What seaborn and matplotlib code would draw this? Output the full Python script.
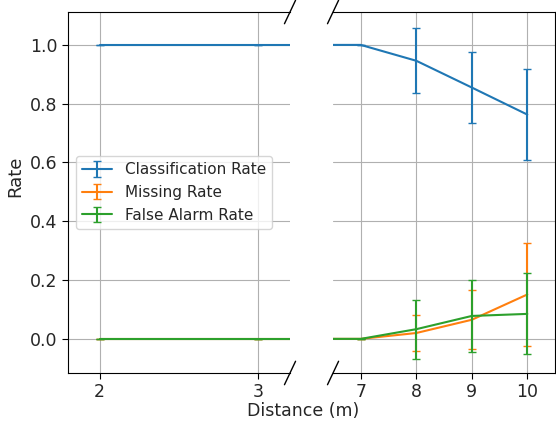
import numpy as np
import pandas as pd
import seaborn as sns
import matplotlib
matplotlib.use("Agg")
import matplotlib.pyplot as plt

distance = [2, 3, 7, 8, 9, 10]
classification_rate = [1.0, 1.0, 1.0, 0.946, 0.855, 0.763]
classification_err = [0.0, 0.0, 0.0, 0.111, 0.122, 0.156]
missing_rate = [0.0, 0.0, 0.0, 0.020, 0.065, 0.151]
missing_err = [0.0, 0.0, 0.0, 0.061, 0.100, 0.175]
false_alarm_rate = [0.0, 0.0, 0.0, 0.033, 0.078, 0.085]
false_alarm_err = [0.0, 0.0, 0.0, 0.100, 0.123, 0.138]
series_names = ["Classification Rate", "Missing Rate", "False Alarm Rate"]

sns.set_style("ticks", {"axes.grid": True, "grid.color": "#b0b0b0", "axes.edgecolor": "black"})
plt.rcParams['font.family'] = ['DejaVu Sans']
palette = sns.color_palette("tab10", 3)

fig = plt.figure(figsize=(5.56, 4.25), dpi=100)
ax1 = fig.add_axes([0.1223, 0.1224, 0.3993, 0.8494])
ax2 = fig.add_axes([0.599, 0.1224, 0.3993, 0.8494], sharey=ax1)

values = [classification_rate, missing_rate, false_alarm_rate]
errs = [classification_err, missing_err, false_alarm_err]

handles = []
for ax in (ax1, ax2):
    for name, v, e, c in zip(series_names, values, errs, palette):
        sns.lineplot(x=distance, y=v, ax=ax, color=c, linewidth=1.5, legend=False)
        ax.errorbar(distance, v, yerr=e, fmt='none', ecolor=c, capsize=3, elinewidth=1.5)
    ax.grid(True, color="#b0b0b0", linewidth=0.8)
    ax.tick_params(labelsize=12.5, length=4, width=0.8, color="black")
    for s in ax.spines.values():
        s.set_linewidth(0.8)

for name, c in zip(series_names, palette):
    h = ax1.errorbar([np.nan], [np.nan], yerr=[np.nan], fmt='-', color=c, capsize=3, linewidth=1.5, label=name)
    handles.append(h)

ax1.set_xlim(1.8, 3.2)
ax2.set_xlim(6.5, 10.5)
ax1.set_ylim(-0.116, 1.112)
ax1.set_xticks([2, 3])
ax2.set_xticks([7, 8, 9, 10])
ax1.set_yticks([0.0, 0.2, 0.4, 0.6, 0.8, 1.0])
ax1.spines['right'].set_visible(False)
ax2.spines['left'].set_visible(False)
ax2.tick_params(axis='y', left=False, labelleft=False)

d = 0.025
kw = dict(color='k', clip_on=False, linewidth=1.0)
ax1.plot((1 - d, 1 + d), (-d * 1.3, d * 1.3), transform=ax1.transAxes, **kw)
ax1.plot((1 - d, 1 + d), (1 - d * 1.3, 1 + d * 1.3), transform=ax1.transAxes, **kw)
ax2.plot((-d, d), (-d * 1.3, d * 1.3), transform=ax2.transAxes, **kw)
ax2.plot((-d, d), (1 - d * 1.3, 1 + d * 1.3), transform=ax2.transAxes, **kw)

ax1.set_ylabel("Rate", fontsize=13)
ax1.yaxis.set_label_coords(-0.197, 0.546)
fig.text(0.546, 0.033, "Distance (m)", ha='center', va='center', fontsize=12.5)
ax1.legend(handles=handles, labels=series_names, loc='center left', fontsize=11, framealpha=0.8)

fig.savefig("out.png", dpi=100)
